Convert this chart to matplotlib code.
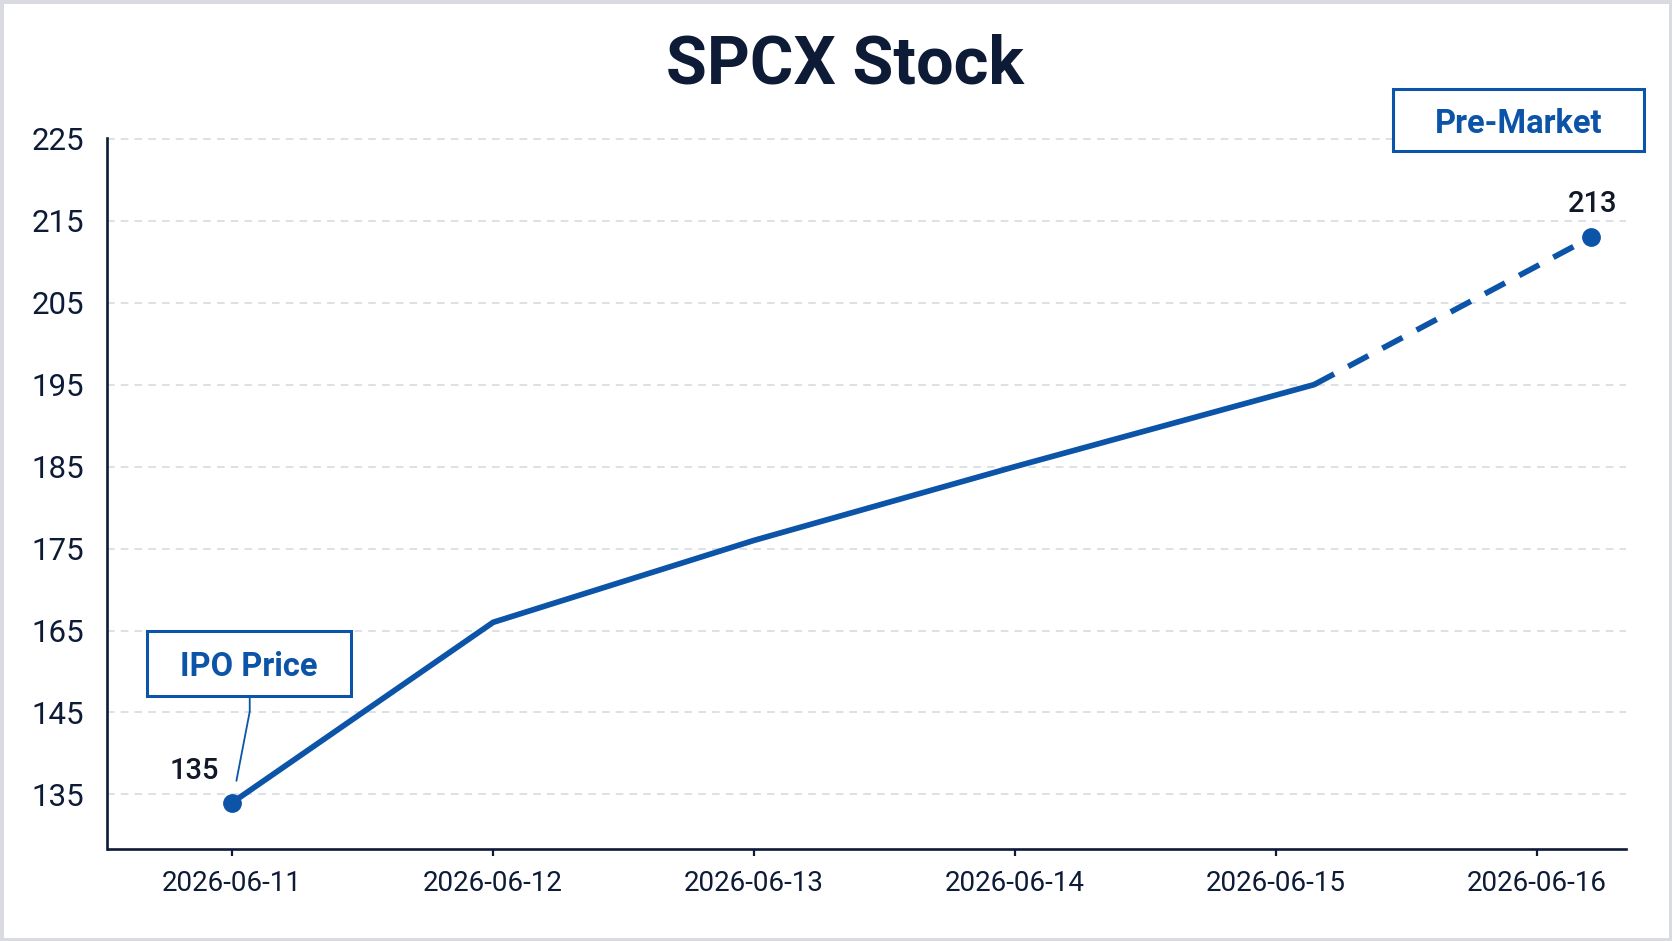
import numpy as np
import pandas as pd
import matplotlib
matplotlib.use("Agg")
import matplotlib.pyplot as plt
import matplotlib.dates as mdates
from matplotlib.patches import Rectangle

# data
dates = ["2026-06-11 00:00", "2026-06-12 00:00", "2026-06-13 00:00", "2026-06-14 00:00",
         "2026-06-15 03:30", "2026-06-16 05:00"]
prices = [134, 166, 176, 185, 195, 213]
n_solid = 5  # last point is pre-market (dashed)
tick_dates = ["2026-06-11", "2026-06-12", "2026-06-13",
              "2026-06-14", "2026-06-15", "2026-06-16"]
ytick_values = [135, 145, 165, 175, 185, 195, 205, 215, 225]
ipo_label = "135"
premarket_label = "213"

BLUE = "#0b54a8"
NAVY = "#0d1b36"
GRID = "#d3d7de"

W, H = 1672, 941
plt.rcParams["font.family"] = ["Roboto", "DejaVu Sans"]


def to_pos(v):
    # axis skips 155: 135-145 and 145-165 each take one grid step
    v = np.asarray(v, dtype=float)
    return np.where(v < 145, (v - 135) / 10,
                    np.where(v < 165, 1 + (v - 145) / 20, 2 + (v - 165) / 10))


def from_pos(p):
    p = np.asarray(p, dtype=float)
    return np.where(p < 1, 135 + 10 * p,
                    np.where(p < 2, 145 + 20 * (p - 1), 165 + 10 * (p - 2)))


def fig_box(x0, y0, x1, y1):
    # pixel box (top-left origin) -> figure fraction rectangle
    return x0 / W, 1 - y1 / H, (x1 - x0) / W, (y1 - y0) / H


x = pd.to_datetime(dates, format="%Y-%m-%d %H:%M")
xt = pd.to_datetime(tick_dates, format="%Y-%m-%d")

fig = plt.figure(figsize=(W / 100, H / 100), dpi=100)
fig.patch.set_facecolor("white")
fig.patch.set_edgecolor("#d9dbe0")
fig.patch.set_linewidth(5)

ax = fig.add_axes([107.5 / W, 1 - 849.3 / H, (1626.4 - 107.5) / W, (849.3 - 138) / H])
ax.set_yscale("function", functions=(to_pos, from_pos))

ax.plot(x[:n_solid], prices[:n_solid], color=BLUE, lw=4.1,
        solid_capstyle="round", solid_joinstyle="round", zorder=3)
ax.plot(x[n_solid - 1:], prices[n_solid - 1:], color=BLUE, lw=4.1,
        dashes=(4.0, 2.8), dash_capstyle="butt", zorder=3)
ax.plot([x[0], x[-1]], [prices[0], prices[-1]], "o", color=BLUE, ms=12.5, zorder=4)

d0 = mdates.date2num(xt[0])
ax.set_xlim(d0 - 0.478, d0 + 5.343)
ax.set_ylim(128.3, 225.1)

ax.set_xticks(xt)
ax.xaxis.set_major_formatter(mdates.DateFormatter("%Y-%m-%d"))
ax.set_yticks(ytick_values)
ax.set_yticklabels([str(v) for v in ytick_values])
ax.yaxis.set_minor_locator(matplotlib.ticker.NullLocator())

ax.tick_params(axis="x", length=5, width=1.6, color=NAVY, pad=10,
               labelsize=20, labelcolor=NAVY)
ax.tick_params(axis="y", length=0, pad=17, labelsize=22.5, labelcolor=NAVY)

for s in ["top", "right"]:
    ax.spines[s].set_visible(False)
for s in ["left", "bottom"]:
    ax.spines[s].set_color(NAVY)
    ax.spines[s].set_linewidth(1.9)

ax.grid(axis="y", color=GRID, lw=1.1, dashes=(5, 4))
ax.set_axisbelow(True)

# value labels
ax.annotate(ipo_label, (x[0], prices[0]), xytext=(-38, 32),
            textcoords="offset pixels", ha="center", va="center",
            fontsize=21, color="#111827", fontweight="medium", zorder=5)
ax.annotate(premarket_label, (x[-1], prices[-1]), xytext=(1, 33),
            textcoords="offset pixels", ha="center", va="center",
            fontsize=21, color="#111827", fontweight="medium", zorder=5)

# IPO callout connector
ax.annotate("", (x[0], prices[0]), xytext=(17.5, 108), textcoords="offset pixels",
            arrowprops=dict(arrowstyle="-", color=BLUE, lw=1.3, shrinkA=0, shrinkB=16,
                            connectionstyle="arc,angleA=-90,armA=17,angleB=0,armB=0,rad=0"))

# callout boxes
for (x0, y0, x1, y1), label in [((147, 630.7, 350.6, 696), "IPO Price"),
                                ((1393, 89, 1644, 150.7), "Pre-Market")]:
    bx, by, bw, bh = fig_box(x0, y0, x1, y1)
    fig.patches.append(Rectangle((bx, by), bw, bh, transform=fig.transFigure,
                                 facecolor="white", edgecolor=BLUE, lw=2.2, zorder=5))
    fig.text((x0 + x1) / 2 / W, 1 - ((y0 + y1) / 2 + 4) / H, label, ha="center",
             va="center", fontsize=23.5, fontweight="bold", color=BLUE, zorder=6)

fig.text(845 / W, 1 - 65 / H, "SPCX Stock", ha="center", va="center",
         fontsize=48, fontweight="bold", color=NAVY)

fig.savefig("out.png", dpi=100, facecolor=fig.get_facecolor(),
            edgecolor=fig.get_edgecolor())
